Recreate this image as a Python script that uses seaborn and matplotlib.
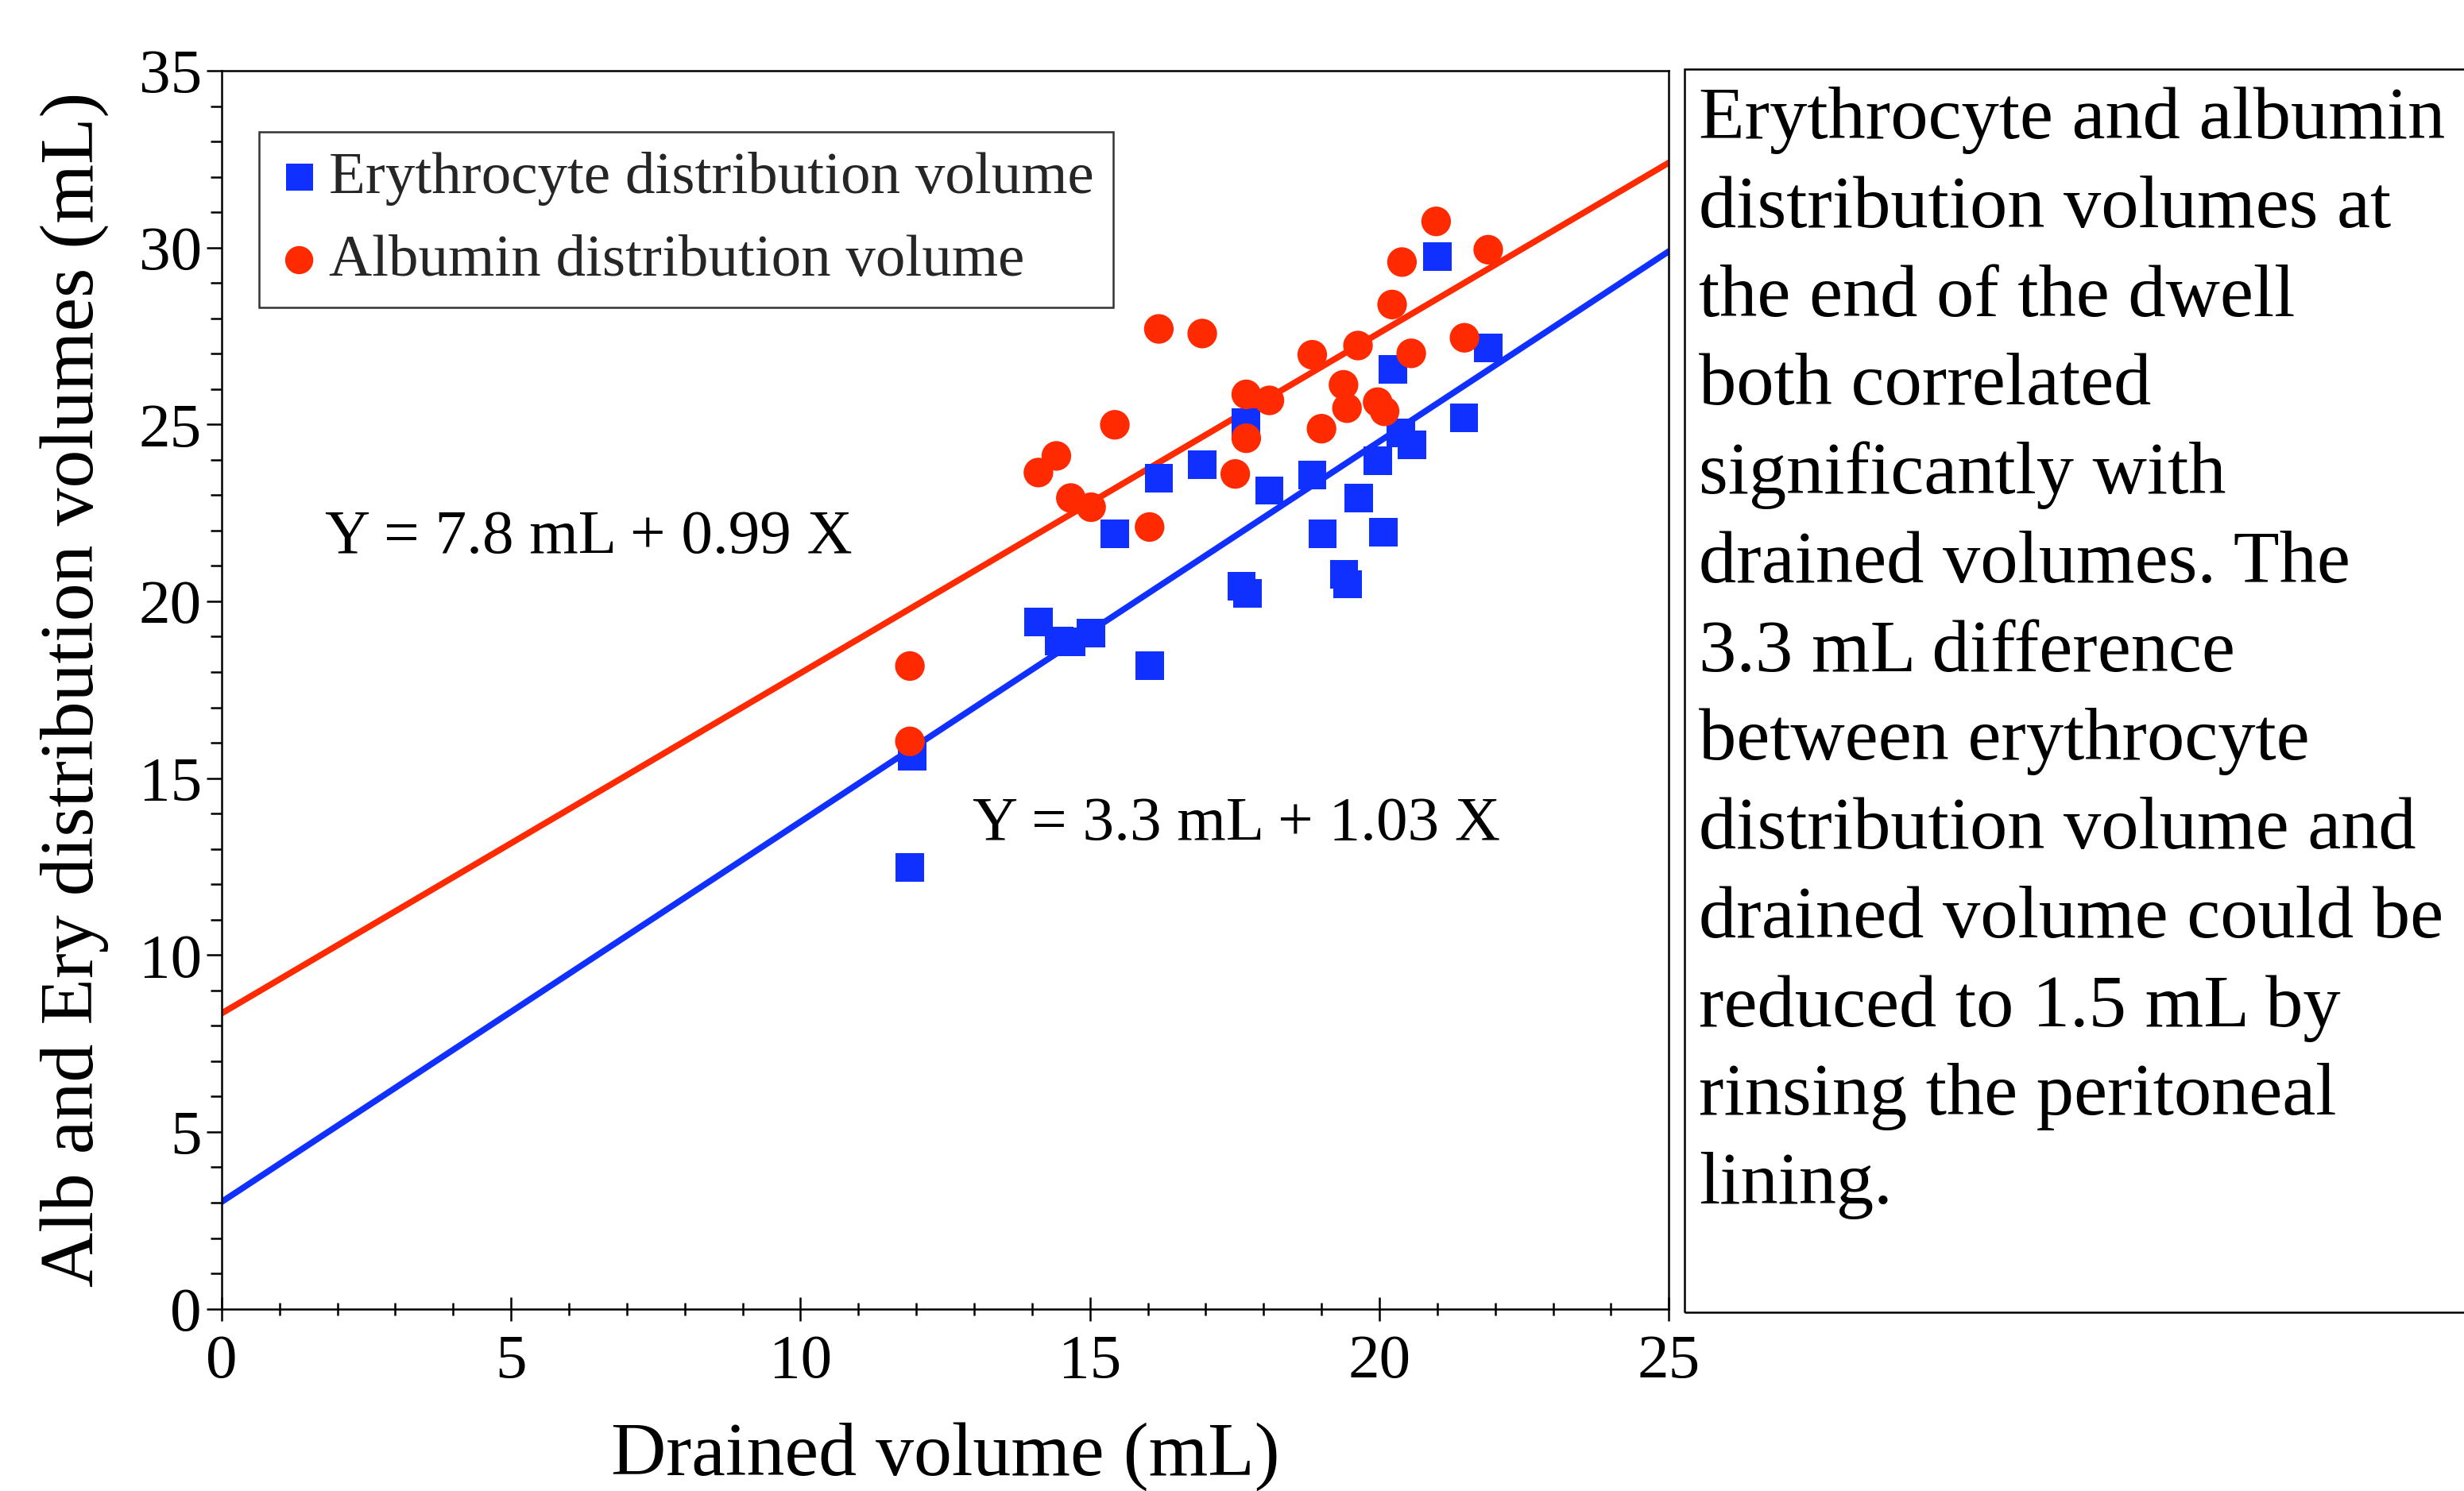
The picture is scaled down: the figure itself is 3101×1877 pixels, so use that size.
import numpy as np
import pandas as pd
import matplotlib
matplotlib.use("Agg")
import matplotlib.pyplot as plt
from matplotlib.patches import Rectangle
from matplotlib.ticker import MultipleLocator
import seaborn as sns

# ---------------- data ----------------
ery_x = [11.89, 11.93, 14.11, 14.47, 14.67, 15.02, 15.43, 16.03, 16.19, 16.94,
         17.62, 17.72, 17.69, 18.10, 18.84, 19.02, 19.39, 19.45, 19.64, 19.97,
         20.07, 20.23, 20.37, 20.56, 21.00, 21.46, 21.88]
ery_y = [12.48, 15.62, 19.41, 18.88, 18.85, 19.10, 21.91, 18.18, 23.48, 23.86,
         20.42, 20.22, 25.05, 23.13, 23.57, 21.91, 20.77, 20.48, 22.92, 23.97,
         21.95, 26.56, 24.76, 24.42, 29.74, 25.19, 27.16]

alb_x = [11.89, 11.89, 14.11, 14.42, 14.67, 15.02, 15.43, 16.03, 16.19, 16.94,
         17.51, 17.70, 17.70, 18.10, 18.84, 19.00, 19.38, 19.44, 19.63, 19.97,
         20.09, 20.22, 20.39, 20.55, 20.98, 21.47, 21.88]
alb_y = [18.17, 16.04, 23.64, 24.11, 22.92, 22.66, 24.99, 22.10, 27.70, 27.57,
         23.60, 25.85, 24.61, 25.68, 26.97, 24.88, 26.12, 25.46, 27.23, 25.63,
         25.37, 28.39, 29.59, 27.01, 30.74, 27.45, 29.94]

series_names = ["Erythrocyte distribution volume", "Albumin distribution volume"]
fit_intercepts = [3.02, 8.35]
fit_slopes = [1.075, 0.962]
fit_x_range = [0, 25]
equation_labels = ["Y = 3.3 mL + 1.03 X", "Y = 7.8 mL + 0.99 X"]
equation_pos = [(12.97, 13.68), (1.79, 21.8)]

x_ticks = [0, 5, 10, 15, 20, 25]
y_ticks = [0, 5, 10, 15, 20, 25, 30, 35]

note_lines = ["Erythrocyte and albumin", "distribution volumes at", "the end of the dwell",
              "both correlated", "significantly with", "drained volumes. The",
              "3.3 mL difference", "between erythrocyte", "distribution volume and",
              "drained volume could be", "reduced to 1.5 mL by", "rinsing the peritoneal",
              "lining."]

x_label = "Drained volume (mL)"
y_label = "Alb and Ery distribution volumes (mL)"

blue = "#1030FF"
red = "#FF2A00"

# ---------------- style ----------------
sns.set_theme(style="ticks")
plt.rcParams["font.family"] = ["Liberation Serif", "DejaVu Serif"]

W, H = 3101, 1877
fig = plt.figure(figsize=(W / 100, H / 100), dpi=100)
fig.patch.set_facecolor("white")
ax = fig.add_axes([141 / 1568, 1 - 833 / 949, (1062 - 141) / 1568, (833 - 45) / 949])
ax.set_facecolor("white")

df = pd.concat([
    pd.DataFrame({"x": ery_x, "y": ery_y, "series": series_names[0]}),
    pd.DataFrame({"x": alb_x, "y": alb_y, "series": series_names[1]}),
], ignore_index=True)

# regression lines
for b0, b1, col in zip(fit_intercepts, fit_slopes, [blue, red]):
    lx = np.array(fit_x_range, dtype=float)
    sns.lineplot(x=lx, y=b0 + b1 * lx, color=col, linewidth=5.6, ax=ax, zorder=2,
                 legend=False)

# scatter points
sns.scatterplot(data=df[df.series == series_names[0]], x="x", y="y", marker="s",
                color=blue, s=660, edgecolor="none", ax=ax, zorder=3,
                label=series_names[0])
sns.scatterplot(data=df[df.series == series_names[1]], x="x", y="y", marker="o",
                color=red, s=720, edgecolor="none", ax=ax, zorder=4,
                label=series_names[1])

ax.set_xlim(0, 25)
ax.set_ylim(0, 35)
ax.set_xticks(x_ticks)
ax.set_yticks(y_ticks)
ax.xaxis.set_minor_locator(MultipleLocator(1))
ax.yaxis.set_minor_locator(MultipleLocator(1))
ax.tick_params(axis="x", which="major", direction="inout", length=22, width=1.8,
               labelsize=57, pad=12, color="black", labelcolor="black")
ax.tick_params(axis="x", which="minor", direction="inout", length=12, width=1.8,
               color="black")
ax.tick_params(axis="y", which="major", direction="out", length=14, width=1.8,
               labelsize=57, pad=4, color="black", labelcolor="black")
ax.tick_params(axis="y", which="minor", direction="out", length=10, width=1.8,
               color="black")
for sp in ax.spines.values():
    sp.set_visible(True)
    sp.set_linewidth(1.8)
    sp.set_color("black")

ax.set_xlabel(x_label, fontsize=69, labelpad=28, color="black")
ax.set_ylabel(y_label, fontsize=69, labelpad=27, color="black")

for lab, (ex, ey) in zip(equation_labels, equation_pos):
    ax.text(ex, ey, lab, fontsize=57, ha="left", va="center", color="black")

leg = ax.legend(loc="upper left", bbox_to_anchor=(165 / 1568, 1 - 84 / 949),
                bbox_transform=fig.transFigure, fontsize=54, frameon=True,
                fancybox=False, borderaxespad=0, handletextpad=0.15,
                handlelength=0.7, borderpad=0.32, labelspacing=0.48,
                markerscale=0.95)
leg.get_frame().set_edgecolor("black")
leg.get_frame().set_linewidth(1.8)

# side note box
fig.patches.append(Rectangle((1072 / 1568, 1 - 835 / 949), 0.4, (835 - 44) / 949,
                             transform=fig.transFigure, fill=False,
                             edgecolor="black", linewidth=1.8))
for i, line in enumerate(note_lines):
    fig.text(1081 / 1568, 1 - (88 + 56.5 * i) / 949, line, fontsize=68,
             ha="left", va="baseline", color="black")

fig.savefig("out.png", dpi=100, facecolor="white")
